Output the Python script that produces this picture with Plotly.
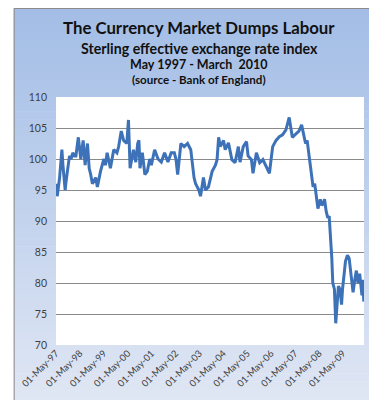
import plotly.graph_objects as go

# ---- data ----
dates = [
    "1997-05-01", "1997-05-20", "1997-06-25", "1997-07-30", "1997-08-15", "1997-09-18", "1997-10-03",
    "1997-10-28", "1997-11-23", "1997-12-17", "1998-01-12", "1998-02-07", "1998-03-01", "1998-04-07",
    "1998-05-15", "1998-06-20", "1998-07-20", "1998-08-25", "1998-09-20", "1998-10-13", "1998-11-08",
    "1998-12-28", "1999-01-23", "1999-03-12", "1999-05-02", "1999-05-26", "1999-06-21", "1999-08-10",
    "1999-09-30", "1999-11-18", "1999-12-14", "2000-01-23", "2000-02-28", "2000-04-17", "2000-05-12",
    "2000-06-06", "2000-07-01", "2000-07-27", "2000-09-01", "2000-09-30", "2000-10-19", "2000-11-04",
    "2000-12-10", "2001-01-18", "2001-02-24", "2001-04-02", "2001-04-27", "2001-06-16", "2001-08-07",
    "2001-09-26", "2001-11-15", "2002-01-05", "2002-02-24", "2002-04-13", "2002-05-08", "2002-06-03",
    "2002-07-22", "2002-09-10", "2002-11-01", "2002-12-20", "2003-02-08", "2003-03-04", "2003-04-23",
    "2003-05-18", "2003-07-02", "2003-08-02", "2003-09-16", "2003-11-12", "2004-01-01", "2004-01-26",
    "2004-02-19", "2004-03-15", "2004-05-04", "2004-05-29", "2004-07-18", "2004-09-08", "2004-10-27",
    "2004-12-16", "2005-01-11", "2005-03-01", "2005-04-20", "2005-05-14", "2005-07-04", "2005-07-28",
    "2005-09-18", "2005-11-07", "2005-12-26", "2006-02-16", "2006-04-05", "2006-05-01", "2006-05-25",
    "2006-07-15", "2006-09-03", "2006-10-22", "2006-12-13", "2007-02-01", "2007-03-21", "2007-05-11",
    "2007-06-30", "2007-08-10", "2007-09-13", "2007-10-09", "2007-11-02", "2007-11-28", "2007-12-23",
    "2008-01-12", "2008-02-01", "2008-02-26", "2008-03-16", "2008-04-15", "2008-05-21", "2008-06-14",
    "2008-07-10", "2008-07-25", "2008-08-20", "2008-09-13", "2008-10-04", "2008-10-24", "2008-11-13",
    "2008-11-28", "2008-12-23", "2009-01-12", "2009-01-27", "2009-02-22", "2009-03-17", "2009-04-11",
    "2009-04-26", "2009-05-21", "2009-06-10", "2009-07-10", "2009-08-05", "2009-09-01", "2009-09-20",
    "2009-10-04", "2009-10-30", "2009-11-23", "2009-12-18", "2010-01-13", "2010-01-28", "2010-02-17",
    "2010-03-02", "2010-03-17",
]
eri = [
    96, 94, 97, 101.5, 99, 95, 96.5,
    98.5, 100.5, 100, 101, 100.5, 100.5, 103.5,
    100, 103, 99, 102.5, 98.5, 97.5, 96,
    97, 95.5, 98, 100, 99, 101, 98.5,
    101.5, 101, 102, 104.5, 103, 102.5, 106.3,
    98.5, 100, 101.5, 99.5, 102.5, 103, 98.5,
    101, 97.5, 98, 100, 99, 101.5, 100,
    99.5, 101, 99.5, 101, 101, 100, 97.5,
    102.5, 102, 102.5, 101.5, 97, 96, 95,
    94, 97, 95, 95.5, 98, 99, 99.9,
    103.5, 102, 103, 101.5, 102.6, 99.9, 99.4,
    102, 99.5, 102, 102.8, 100.5, 99.9, 97.7,
    101, 99.4, 99.9, 98.8, 97.7, 100, 102,
    103, 103.6, 103.9, 104.7, 106.7, 103.5, 104,
    104.5, 105.5, 104, 102.5, 103, 101, 99,
    97.5, 95.5, 96, 94, 92, 93.5, 92.5,
    93, 93.5, 91.5, 90.5, 90.8, 88, 84,
    80, 79, 73.5, 76, 79.5, 79, 76.5,
    79, 81.5, 83.5, 84.5, 84, 81.5, 80,
    78.5, 80.5, 82, 80, 81.5, 80, 78,
    80.5, 77,
]
tick_dates = [f"{y}-05-01" for y in range(1997, 2010)]
tick_labels = [f"01-May-{str(y)[2:]}" for y in range(1997, 2010)]
y_ticks = [70, 75, 80, 85, 90, 95, 100, 105, 110]

title_lines = [
    "The Currency Market Dumps Labour",
    "Sterling effective exchange rate index",
    "May 1997 - March  2010",
    "(source - Bank of England)",
]

# ---- geometry ----
W, H = 377, 400
ml, mr, mt, mb = 43, 21, 89, 63
pw, ph = W - ml - mr, H - mt - mb


def px(x):
    return (x - ml) / pw


def py(y):
    return (H - mb - y) / ph


fig = go.Figure()
fig.add_trace(go.Scatter(
    x=dates, y=eri, mode="lines",
    line=dict(color="#3d72b8", width=3),
    hoverinfo="skip", showlegend=False,
))

# gradient background (chart area)
shapes = []
top_c = (0xA3, 0xBD, 0xE6)
bot_c = (0xE0, 0xE7, 0xF4)
n = 50
box_top, box_bot = 0, 397
for i in range(n):
    y0 = box_top + (box_bot - box_top) * i / n
    y1 = box_top + (box_bot - box_top) * (i + 1) / n + 0.6
    f = (i + 0.5) / n
    c = tuple(round(top_c[k] + (bot_c[k] - top_c[k]) * f) for k in range(3))
    shapes.append(dict(type="rect", xref="paper", yref="paper",
                       x0=px(0), x1=px(375), y0=py(min(y1, box_bot)), y1=py(y0),
                       fillcolor="rgb(%d,%d,%d)" % c, line=dict(width=0), layer="below"))
# white plot area
shapes.append(dict(type="rect", xref="paper", yref="paper", x0=0, x1=1, y0=0, y1=1,
                   fillcolor="white", line=dict(width=0), layer="below"))
# chart border
shapes.append(dict(type="rect", xref="paper", yref="paper",
                   x0=px(0.5), x1=px(374.5), y0=py(396.5), y1=py(0.5),
                   fillcolor="rgba(0,0,0,0)", line=dict(color="#8c8c8c", width=1), layer="above"))

font_fam = "Lato, 'Open Sans', sans-serif"
annots = []
specs = [(title_lines[0], 16.8, 20), (title_lines[1], 14.2, 41), (title_lines[2], 12.5, 57),
         (title_lines[3], 11.6, 72)]
for text, size, yc in specs:
    annots.append(dict(text="<b>%s</b>" % text, x=0.5, xref="paper", xanchor="center",
                       xshift=(188.5 - (ml + pw / 2)),
                       y=py(yc), yref="paper", yanchor="middle", showarrow=False,
                       font=dict(family=font_fam, size=size, color="#111111")))

fig.update_layout(
    width=W, height=H,
    margin=dict(l=ml, r=mr, t=mt, b=mb, pad=0),
    paper_bgcolor="white", plot_bgcolor="white",
    shapes=shapes, annotations=annots,
    showlegend=False,
    xaxis=dict(
        range=["1997-05-01", "2010-03-20"],
        tickvals=tick_dates, ticktext=tick_labels, tickangle=-45,
        tickfont=dict(family=font_fam, size=9.5, color="#404040"),
        showgrid=False, zeroline=False, showline=False, ticks="",
    ),
    yaxis=dict(
        range=[70, 110], tickvals=y_ticks,
        tickfont=dict(family=font_fam, size=10.5, color="#404040"),
        showgrid=True, gridcolor="#8a8a8a", gridwidth=1,
        zeroline=False, showline=False, ticks="", ticklabelstandoff=8,
    ),
)

fig.write_html("out.html")
